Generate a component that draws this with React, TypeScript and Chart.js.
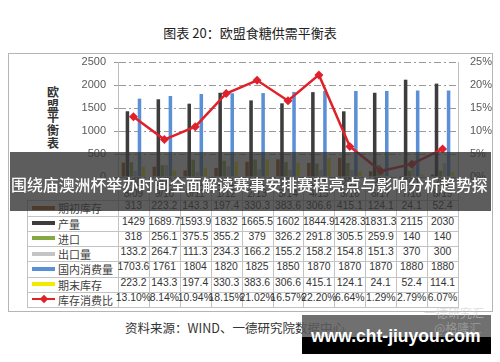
import React, { useEffect, useRef } from 'react';
import { Chart, registerables } from 'chart.js';

Chart.register(...registerables);

const categories = ['2008/09', '2009/10', '2010/11', '2011/12', '2012/13', '2013/14', '2014/15', '2015/16', '2016/17', '2017/18', '2018/19'];
const openingStock = [313, 223.2, 143.3, 197.4, 330.3, 383.6, 306.6, 415.1, 124.1, 24.1, 52.4];
const production = [1429, 1689.7, 1593.9, 1832, 1665.5, 1602, 1844.9, 1428.3, 1831.3, 2115, 2030];
const imports = [318, 256.1, 375.5, 355.2, 379, 326.2, 291.8, 305.5, 259.9, 140, 140];
const exportsQty = [133.2, 264.7, 111.3, 234.3, 166.2, 155.2, 158.2, 154.8, 151.3, 370, 300];
const consumption = [1703.6, 1761, 1804, 1820, 1825, 1850, 1870, 1870, 1870, 1880, 1880];
const endingStock = [223.2, 143.3, 197.4, 330.3, 383.6, 306.6, 415.1, 124.1, 24.1, 52.4, 114.1];
const stockRatio = [13.1, 8.14, 10.94, 18.15, 21.02, 16.57, 22.2, 6.64, 1.29, 2.79, 6.07];

const seriesNames = ['期初库存', '产量', '进口', '出口量', '国内消费量', '期末库存', '库存消费比'];
const seriesColors = ['#a9520f', '#3d3d3d', '#86a843', '#c4c4c4', '#5b8fd6', '#f2ea00', '#e0202a'];

const titleText = '图表 20：欧盟食糖供需平衡表';
const axisTitle = '欧盟平衡表';
const sourceText = '资料来源：WIND、一德研究院数据中心';
const bannerText = '围绕庙澳洲杯举办时间全面解读赛事安排赛程亮点与影响分析趋势探';
const watermarkText = 'www.cht-jiuyou.com';

const PLOT_L = 118;
const PLOT_R = 458;
const COL_W = (PLOT_R - PLOT_L) / categories.length;
const HEAD_TOP = 177;
const ROW_TOP = 200.3;
const ROW_H = 15.25;
const LEG_L = 27;

const fmt = (v: number) => String(v);
const fmtPct = (v: number) => v.toFixed(2) + '%';

export default function App() {
  const ref = useRef<HTMLCanvasElement>(null);

  useEffect(() => {
    const barSeries = [openingStock, production, imports, exportsQty, consumption, endingStock];
    const datasets: any[] = barSeries.map((d, i) => ({
      type: 'bar',
      label: seriesNames[i],
      data: d,
      backgroundColor: seriesColors[i],
      yAxisID: 'y',
      categoryPercentage: 0.78,
      barPercentage: 0.88,
      order: 1,
    }));
    datasets.push({
      type: 'line',
      label: seriesNames[6],
      data: stockRatio,
      borderColor: seriesColors[6],
      backgroundColor: seriesColors[6],
      borderWidth: 2.5,
      pointStyle: 'rectRot',
      pointRadius: 4.5,
      pointBorderWidth: 0,
      yAxisID: 'y1',
      tension: 0,
      order: 0,
    });
    const chart = new Chart(ref.current!, {
      type: 'bar',
      data: { labels: categories, datasets },
      options: {
        animation: false,
        responsive: false,
        layout: { padding: { top: 62, bottom: 23, left: 0, right: 0 } },
        plugins: { legend: { display: false }, tooltip: { enabled: false } },
        scales: {
          x: { display: false },
          y: {
            position: 'left',
            min: 0,
            max: 2500,
            ticks: {
              stepSize: 500,
              color: '#595959',
              padding: 8,
              font: { size: 11, family: 'Liberation Sans' },
              callback: (v: any) => String(v),
            },
            grid: { color: '#9a9a9a', lineWidth: 1, tickLength: 4 },
            border: { display: true, color: '#bdbdbd', dash: [7, 3, 2, 3] },
            afterFit: (s: any) => { s.width = PLOT_L; },
          },
          y1: {
            position: 'right',
            min: 0,
            max: 25,
            ticks: {
              stepSize: 5,
              color: '#595959',
              padding: 12,
              font: { size: 11, family: 'Liberation Sans' },
              callback: (v: any) => v + '%',
            },
            grid: { drawOnChartArea: false, drawTicks: false },
            border: { display: true, color: '#bdbdbd' },
            afterFit: (s: any) => { s.width = 500 - PLOT_R; },
          },
        },
      },
    } as any);
    return () => chart.destroy();
  }, []);

  const line = (l: number, t: number, w: number, h: number, key: string) => (
    <div key={key} style={{ position: 'absolute', left: l, top: t, width: w, height: h, background: '#c3c3c3' }} />
  );

  const tableRows = [openingStock, production, imports, exportsQty, consumption, endingStock, stockRatio];
  const tableBottom = ROW_TOP + ROW_H * tableRows.length;

  const cells: any[] = [];
  for (let k = 0; k <= categories.length; k++) {
    cells.push(line(Math.round(PLOT_L + k * COL_W), HEAD_TOP, 1, tableBottom - HEAD_TOP, 'v' + k));
  }
  cells.push(line(LEG_L, ROW_TOP, 1, tableBottom - ROW_TOP, 'vl'));
  for (let r = 0; r <= tableRows.length; r++) {
    cells.push(line(LEG_L, Math.round(ROW_TOP + r * ROW_H), PLOT_R - LEG_L + 1, 1, 'h' + r));
  }
  categories.forEach((c, i) => {
    cells.push(
      <div key={'hd' + i} style={{ position: 'absolute', left: PLOT_L + i * COL_W, top: HEAD_TOP + 1, width: COL_W, textAlign: 'center', font: '10px "Liberation Sans"', lineHeight: '10.5px', color: '#404040' }}>
        {c.slice(0, 3)}<br />{c.slice(3)}
      </div>
    );
  });
  tableRows.forEach((row, r) => {
    const top = ROW_TOP + r * ROW_H;
    const isLine = r === 6;
    cells.push(
      <div key={'sw' + r} style={{ position: 'absolute', left: 32, top: top + ROW_H / 2 - (isLine ? 1 : 2), width: 23, height: isLine ? 2 : 4, background: seriesColors[r] }} />
    );
    if (isLine) {
      cells.push(
        <div key="dia" style={{ position: 'absolute', left: 40.5, top: top + ROW_H / 2 - 3, width: 6, height: 6, background: seriesColors[6], transform: 'rotate(45deg)' }} />
      );
    }
    cells.push(
      <div key={'ln' + r} style={{ position: 'absolute', left: 58, top: top, height: ROW_H, lineHeight: ROW_H + 'px', font: '11px "Noto Sans CJK SC"', color: '#404040', whiteSpace: 'nowrap' }}>
        {seriesNames[r]}
      </div>
    );
    row.forEach((v, i) => {
      cells.push(
        <div key={'c' + r + '_' + i} style={{ position: 'absolute', left: PLOT_L + i * COL_W, top: top, width: COL_W, height: ROW_H, lineHeight: ROW_H + 'px', textAlign: 'center', font: '10.4px "Liberation Sans"', color: '#333', whiteSpace: 'nowrap', overflow: 'visible', display: 'flex', justifyContent: 'center' }}>
          {isLine ? fmtPct(v) : fmt(v)}
        </div>
      );
    });
  });

  return (
    <div style={{ position: 'absolute', left: 0, top: 0, width: 500, height: 362, background: '#fff', overflow: 'hidden' }}>
      <div style={{ position: 'absolute', left: 0, top: 24, width: 500, textAlign: 'center', font: '13px "Noto Sans CJK SC"', lineHeight: '18px', color: '#222' }}>
        {titleText}
      </div>
      <div style={{ position: 'absolute', left: 8, top: 53, width: 483, height: 257, border: '1px solid #b5b5b5' }} />
      <div style={{ position: 'absolute', left: 46, top: 86, width: 14, textAlign: 'center', font: '700 12px "Noto Sans CJK SC"', lineHeight: '12.7px', color: '#333' }}>
        {axisTitle.split('').map((ch, i) => <div key={i}>{ch}</div>)}
      </div>
      {cells}
      <canvas ref={ref} width={500} height={200} style={{ position: 'absolute', left: 0, top: 0, width: 500, height: 200 }} />
      <div style={{ position: 'absolute', left: 0, top: 319, width: 470, textAlign: 'center', font: '12.5px "Noto Sans CJK SC"', lineHeight: '18px', color: '#333' }}>
        {sourceText}
      </div>
      <div style={{ position: 'absolute', left: 10, top: 152, width: 481, height: 59, background: 'rgba(52,52,52,0.8)' }} />
      <div style={{ position: 'absolute', left: 11, top: 173, width: 490, font: '500 15.9px "Noto Sans CJK SC"', lineHeight: '24px', color: '#fff', whiteSpace: 'nowrap' }}>
        {bannerText}
      </div>
      <div style={{ position: 'absolute', left: 302, top: 315, width: 189, height: 22, background: 'rgba(92,92,92,0.88)' }} />
      <div style={{ position: 'absolute', left: 424, top: 306, font: '12px "Noto Sans CJK SC"', lineHeight: '14px', color: 'rgba(200,200,200,0.6)', whiteSpace: 'nowrap' }}>一德研究汇</div>
      <div style={{ position: 'absolute', left: 434, top: 321, font: '12px "Noto Sans CJK SC"', lineHeight: '14px', color: 'rgba(200,200,200,0.45)', whiteSpace: 'nowrap' }}>@格隆汇</div>
      <div style={{ position: 'absolute', left: 302, top: 337, width: 189, height: 17, background: '#000' }} />
      <div style={{ position: 'absolute', left: 311, top: 328, font: 'bold 17.5px "Liberation Sans"', lineHeight: 1, color: '#fff', whiteSpace: 'nowrap' }}>
        {watermarkText}
      </div>
    </div>
  );
}
